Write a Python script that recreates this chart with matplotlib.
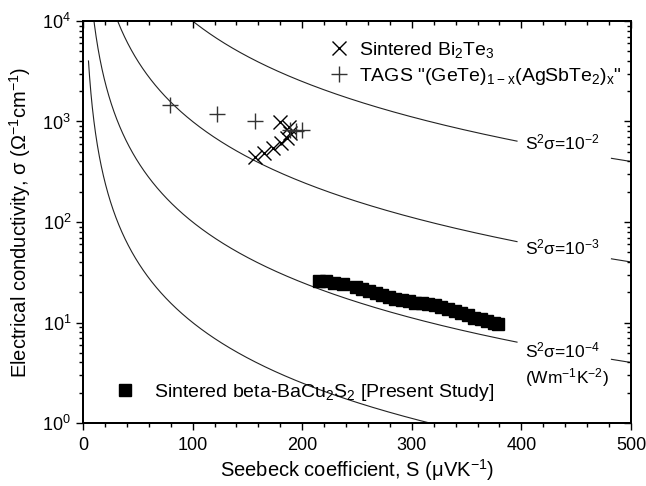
import numpy as np
import matplotlib
matplotlib.use("Agg")
import matplotlib.pyplot as plt
from matplotlib.lines import Line2D
from matplotlib.ticker import MultipleLocator, LogLocator, NullFormatter

plt.rcParams['font.family'] = ['Liberation Sans', 'DejaVu Sans']
plt.rcParams['mathtext.default'] = 'regular'

# Sintered Bi2Te3
bi2te3_S = [157, 165, 173, 181, 186, 189, 188, 180]
bi2te3_sigma = [443, 486, 545, 610, 685, 765, 880, 990]

# TAGS (GeTe)1-x(AgSbTe2)x
tags_S = [79, 122, 157, 189, 194, 200]
tags_sigma = [1460, 1190, 1010, 823, 804, 823]

# Sintered beta-BaCu2S2 (present study)
bacus_S = [215, 222, 229, 237, 249, 255, 261, 267, 273, 279, 285, 291, 297,
           303, 309, 315, 321, 327, 333, 339, 345, 351, 357, 363, 369, 375, 379]
bacus_sigma = [25.9, 25.8, 25.0, 24.0, 22.6, 21.6, 20.7, 19.8, 18.9, 18.1,
               17.3, 16.7, 16.2, 15.8, 15.5, 15.2, 14.8, 14.2, 13.5, 12.9,
               12.4, 11.8, 11.2, 10.8, 10.3, 9.9, 9.6]

# constant power-factor contours, S^2*sigma in W m^-1 K^-2
pf_levels = [1e-2, 1e-3, 1e-4, 1e-5]
pf_labels = ['S$^2$σ=10$^{-2}$', 'S$^2$σ=10$^{-3}$', 'S$^2$σ=10$^{-4}$', None]
pf_label_sigma = [625, 56, 5.3, None]

fig = plt.figure(figsize=(6.46, 4.86), dpi=100)
ax = fig.add_axes([83 / 646, 1 - 423 / 486, 548 / 646, 402 / 486])

S = np.linspace(5, 500, 2000)
for pf, lab in zip(pf_levels, pf_labels):
    # sigma [S/cm] = PF / (S[uV/K]*1e-6)^2 / 100
    sig = pf / (S * 1e-6) ** 2 / 100.0
    if lab is not None:
        sig = np.where((S > 396) & (S < 482), np.nan, sig)
    ax.plot(S, sig, color='#222222', lw=0.8)

for lab, ys in zip(pf_labels, pf_label_sigma):
    if lab is None:
        continue
    ax.text(403, ys, lab, fontsize=12.5, va='center', ha='left')
ax.text(403, 2.85, '(Wm$^{-1}$K$^{-2}$)', fontsize=12.5, va='center', ha='left')

ax.plot(bi2te3_S, bi2te3_sigma, ls='none', marker='x', ms=10, mew=1.0,
        color='black')
ax.plot(tags_S, tags_sigma, ls='none', marker='+', ms=11, mew=1.0,
        color='#333333')
ax.plot(bacus_S, bacus_sigma, ls='none', marker='s', ms=8.5, color='black')

ax.set_xlim(0, 500)
ax.set_yscale('log')
ax.set_ylim(1, 1e4)

ax.xaxis.set_major_locator(MultipleLocator(100))
ax.xaxis.set_minor_locator(MultipleLocator(20))
ax.yaxis.set_major_locator(LogLocator(base=10, numticks=10))
ax.yaxis.set_minor_locator(LogLocator(base=10, subs=np.arange(2, 10), numticks=20))
ax.yaxis.set_minor_formatter(NullFormatter())

ax.tick_params(which='major', direction='out', length=5, width=1.0,
               labelsize=13)
ax.tick_params(which='minor', direction='out', length=3, width=1.0)
ax.tick_params(axis='x', pad=5)

# mirrored axes on top and right with inward ticks
axt = ax.twiny()
axt.set_xlim(ax.get_xlim())
axt.xaxis.set_major_locator(MultipleLocator(100))
axt.xaxis.set_minor_locator(MultipleLocator(20))
axt.tick_params(which='both', direction='in', labeltop=False, width=1.0)
axt.tick_params(which='major', length=5)
axt.tick_params(which='minor', length=3)

axr = ax.twinx()
axr.set_yscale('log')
axr.set_ylim(ax.get_ylim())
axr.yaxis.set_major_locator(LogLocator(base=10, numticks=10))
axr.yaxis.set_minor_locator(LogLocator(base=10, subs=np.arange(2, 10), numticks=20))
axr.tick_params(which='both', direction='in', labelright=False, width=1.0)
axr.tick_params(which='major', length=5)
axr.tick_params(which='minor', length=3)

for a in (ax, axt, axr):
    for sp in a.spines.values():
        sp.set_linewidth(1.2)

ax.set_xlabel('Seebeck coefficient, S (μVK$^{-1}$)', fontsize=14.5, labelpad=2)
ax.set_ylabel('Electrical conductivity, σ (Ω$^{-1}$cm$^{-1}$)', fontsize=14.5,
              labelpad=7)

h1 = [Line2D([], [], ls='none', marker='x', ms=10, mew=1.0, color='black'),
      Line2D([], [], ls='none', marker='+', ms=11, mew=1.0, color='#333333')]
leg1 = ax.legend(h1, ['Sintered Bi$_2$Te$_3$',
                      'TAGS "(GeTe)$_{1-x}$(AgSbTe$_2$)$_x$"'],
                 loc='upper left', bbox_to_anchor=(0.435, 0.972),
                 frameon=False, fontsize=14, handlelength=1.0,
                 handletextpad=0.55, labelspacing=0.3, borderaxespad=0)
ax.add_artist(leg1)
h2 = [Line2D([], [], ls='none', marker='s', ms=8.5, color='black')]
ax.legend(h2, ['Sintered beta-BaCu$_2$S$_2$ [Present Study]'],
          loc='lower left', bbox_to_anchor=(0.045, 0.03), frameon=False,
          fontsize=14, handlelength=1.0, handletextpad=1.0, borderaxespad=0)

fig.savefig('out.png', dpi=100)
